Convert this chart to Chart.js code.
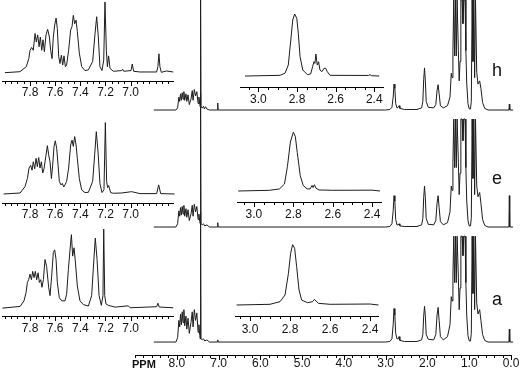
<!DOCTYPE html>
<html>
<head>
<meta charset="utf-8">
<script src="https://cdn.jsdelivr.net/npm/chart.js@4.4.1/dist/chart.umd.min.js"></script>
<style>
  html, body { margin: 0; padding: 0; background: #fff; }
  #wrap { position: relative; width: 521px; height: 376px; overflow: hidden; }
  #wrap canvas { position: absolute; }
</style>
</head>
<body>
<div id="wrap">
  <canvas id="main" width="521" height="376" style="left:0;top:0"></canvas>
  <canvas id="aroH" width="185" height="100" style="left:0;top:0"></canvas>
  <canvas id="aroE" width="185" height="117" style="left:0;top:105px"></canvas>
  <canvas id="aroA" width="185" height="116" style="left:0;top:220px"></canvas>
  <canvas id="aliH" width="170" height="108" style="left:225px;top:0"></canvas>
  <canvas id="aliE" width="170" height="108" style="left:222px;top:115px"></canvas>
  <canvas id="aliA" width="170" height="108" style="left:220px;top:230px"></canvas>
</div>
<script>
// spectra as [ppm, intensity] pairs
const mainH = [
  [8.55,0],[8.02,0],[7.98,0.02],[7.95,0.12],[7.93,0.08],[7.91,0.15],[7.89,0.09],[7.87,0.16],[7.85,0.10],[7.83,0.17],
  [7.81,0.09],[7.78,0.15],[7.76,0.08],[7.73,0.14],[7.70,0.05],[7.66,0.10],[7.63,0.18],[7.61,0.09],[7.58,0.19],[7.55,0.13],
  [7.52,0.17],[7.49,0.06],[7.47,0.12],[7.45,0.05],[7.44,0.03],[7.43,1.03],[7.42,0.03],[7.39,0.02],[7.36,0.035],[7.34,0.01],
  [7.31,0.03],[7.28,0.01],[7.22,0],[7.03,0],[7.02,0.065],[7.01,0],
  [3.0,0],[2.90,0.005],[2.85,0.025],[2.82,0.12],[2.80,0.24],[2.78,0.2],[2.76,0.06],[2.73,0.02],[2.70,0.025],[2.68,0.04],
  [2.66,0.015],[2.55,0.005],[2.25,0.005],[2.14,0.02],[2.11,0.08],[2.09,0.28],[2.07,0.39],[2.05,0.27],[2.03,0.08],[1.98,0.025],
  [1.85,0.02],[1.80,0.05],[1.77,0.18],[1.745,0.235],[1.72,0.15],[1.69,0.04],[1.62,0.02],[1.52,0.04],[1.46,0.12],[1.43,0.34],
  [1.41,0.3],[1.39,0.55],[1.37,1.02],[1.35,0.5],[1.33,1.02],[1.31,0.5],[1.29,1.02],[1.26,0.55],[1.24,0.27],[1.22,0.45],
  [1.20,1.02],[1.17,1.02],[1.15,0.8],[1.13,1.02],[1.10,1.02],[1.08,0.55],[1.06,0.25],[1.03,0.06],[1.00,0.01],[0.97,0.01],
  [0.95,0.08],[0.93,1.02],[0.91,0.45],[0.89,1.02],[0.87,0.3],[0.85,1.02],[0.82,0.35],[0.79,0.24],[0.75,0.27],[0.72,0.2],
  [0.68,0.07],[0.63,0.015],[0.55,0],[0.05,0],[0.04,0.055],[0.03,0],[-0.05,0]
];
const mainE = [
  [8.55,0],[8.02,0],[7.98,0.03],[7.95,0.15],[7.93,0.1],[7.91,0.18],[7.89,0.11],[7.87,0.19],[7.85,0.12],[7.83,0.2],
  [7.81,0.1],[7.78,0.17],[7.76,0.09],[7.73,0.16],[7.70,0.06],[7.66,0.12],[7.63,0.2],[7.61,0.1],[7.58,0.21],[7.55,0.14],
  [7.52,0.19],[7.49,0.07],[7.47,0.12],[7.45,0.05],[7.44,0.03],[7.43,1.24],[7.42,0.03],[7.39,0.02],[7.36,0.03],[7.33,0.01],
  [7.28,0.02],[7.22,0],[7.03,0],[7.02,0.04],[7.01,0],
  [3.0,0],[2.90,0.005],[2.85,0.03],[2.82,0.15],[2.80,0.29],[2.78,0.24],[2.76,0.07],[2.73,0.02],[2.70,0.02],[2.68,0.03],
  [2.66,0.01],[2.55,0.005],[2.25,0.005],[2.14,0.02],[2.11,0.08],[2.09,0.27],[2.07,0.38],[2.05,0.27],[2.03,0.08],[1.98,0.025],
  [1.85,0.02],[1.80,0.06],[1.77,0.22],[1.745,0.29],[1.72,0.18],[1.69,0.05],[1.62,0.02],[1.52,0.04],[1.46,0.14],[1.43,0.38],
  [1.41,0.34],[1.39,0.6],[1.37,1.0],[1.35,0.55],[1.33,1.0],[1.31,0.55],[1.29,1.0],[1.26,0.6],[1.24,0.3],[1.22,0.5],
  [1.20,1.0],[1.17,1.0],[1.15,0.8],[1.13,1.0],[1.10,1.0],[1.08,0.55],[1.06,0.25],[1.03,0.06],[1.00,0.01],[0.97,0.01],
  [0.95,0.08],[0.93,1.0],[0.91,0.45],[0.89,1.0],[0.87,0.3],[0.85,1.0],[0.82,0.38],[0.79,0.28],[0.75,0.32],[0.72,0.22],
  [0.68,0.07],[0.63,0.015],[0.55,0],[0.05,0],[0.04,0.29],[0.03,0],[-0.05,0]
];
const mainA = [
  [8.55,0],[8.02,0],[7.98,0.04],[7.95,0.2],[7.93,0.14],[7.91,0.26],[7.89,0.16],[7.87,0.28],[7.85,0.18],[7.83,0.3],
  [7.81,0.15],[7.78,0.24],[7.76,0.12],[7.73,0.22],[7.70,0.08],[7.66,0.18],[7.63,0.28],[7.61,0.14],[7.58,0.3],[7.55,0.2],
  [7.52,0.27],[7.49,0.09],[7.47,0.16],[7.45,0.06],[7.44,0.03],[7.43,1.2],[7.42,0.03],[7.39,0.02],[7.36,0.03],[7.33,0.01],
  [7.28,0.02],[7.22,0],[7.03,0],[7.02,0.02],[7.01,0],
  [3.0,0],[2.90,0.005],[2.85,0.03],[2.82,0.16],[2.80,0.31],[2.78,0.25],[2.76,0.08],[2.73,0.03],[2.70,0.03],[2.68,0.05],
  [2.66,0.015],[2.55,0.005],[2.25,0.005],[2.14,0.02],[2.11,0.07],[2.09,0.24],[2.07,0.33],[2.05,0.24],[2.03,0.07],[1.98,0.025],
  [1.85,0.02],[1.80,0.07],[1.77,0.25],[1.745,0.32],[1.72,0.2],[1.69,0.05],[1.62,0.02],[1.52,0.05],[1.46,0.16],[1.43,0.42],
  [1.41,0.38],[1.39,0.62],[1.37,0.98],[1.35,0.55],[1.33,0.98],[1.31,0.55],[1.29,0.98],[1.26,0.6],[1.24,0.3],[1.22,0.5],
  [1.20,0.98],[1.17,0.98],[1.15,0.8],[1.13,0.98],[1.10,0.98],[1.08,0.55],[1.06,0.25],[1.03,0.06],[1.00,0.01],[0.97,0.01],
  [0.95,0.08],[0.93,0.98],[0.91,0.45],[0.89,0.98],[0.87,0.3],[0.85,0.98],[0.82,0.36],[0.79,0.26],[0.75,0.30],[0.72,0.2],
  [0.68,0.07],[0.63,0.015],[0.55,0],[0.05,0],[0.04,0.12],[0.03,0],[-0.05,0]
];

const aroH = [
  [8.00,0],[7.88,0.014],[7.83,0.086],[7.81,0.2],[7.80,0.32],[7.787,0.36],[7.774,0.32],[7.76,0.56],[7.75,0.44],[7.739,0.54],
  [7.728,0.37],[7.718,0.51],[7.707,0.32],[7.697,0.47],[7.686,0.30],[7.673,0.54],[7.66,0.62],[7.646,0.51],[7.636,0.32],[7.625,0.2],
  [7.615,0.51],[7.604,0.68],[7.593,0.78],[7.583,0.63],[7.572,0.23],[7.562,0.13],[7.551,0.25],[7.54,0.11],[7.53,0.24],[7.519,0.086],
  [7.509,0.11],[7.493,0.32],[7.477,0.61],[7.466,0.66],[7.456,0.82],[7.445,0.70],[7.434,0.75],[7.424,0.59],[7.408,0.28],[7.389,0.086],
  [7.363,0.03],[7.336,0.04],[7.302,0.16],[7.283,0.56],[7.27,0.80],[7.257,0.51],[7.244,0.086],[7.228,0.03],[7.214,0.18],[7.204,1.01],
  [7.193,0.32],[7.185,0.086],[7.175,0.24],[7.164,0.062],[7.138,0.02],[7.071,0.03],[7.063,0.048],[7.055,0.02],[6.997,0.03],[6.987,0.124],
  [6.976,0.02],[6.926,0.01],[6.793,0.01],[6.783,0.086],[6.775,0.27],[6.767,0.086],[6.756,0.005],[6.714,0.024],[6.661,0.01]
];
const aroE = [
  [8.01,0],[7.879,0.014],[7.84,0.105],[7.821,0.22],[7.808,0.37],[7.795,0.41],[7.784,0.34],[7.774,0.46],[7.763,0.36],[7.752,0.51],
  [7.742,0.39],[7.731,0.52],[7.721,0.37],[7.71,0.46],[7.699,0.30],[7.689,0.36],[7.675,0.53],[7.662,0.69],[7.652,0.56],[7.641,0.46],
  [7.63,0.22],[7.62,0.41],[7.609,0.68],[7.599,0.76],[7.588,0.65],[7.577,0.41],[7.567,0.18],[7.554,0.13],[7.543,0.15],[7.532,0.10],
  [7.522,0.13],[7.509,0.18],[7.493,0.37],[7.477,0.70],[7.466,0.77],[7.456,0.68],[7.445,0.82],[7.434,0.70],[7.424,0.51],[7.408,0.22],
  [7.389,0.057],[7.363,0.02],[7.336,0.024],[7.302,0.18],[7.286,0.56],[7.273,0.89],[7.259,0.60],[7.244,0.15],[7.228,0.02],[7.212,0.06],
  [7.201,1.02],[7.191,0.18],[7.183,0.09],[7.175,0.12],[7.159,0.02],[7.138,0.01],[7.071,0.014],[6.992,0.033],[6.926,0.005],[6.793,0.005],
  [6.777,0.13],[6.761,0.005],[6.65,0]
];
const aroA = [
  [8.02,0],[7.879,0.024],[7.848,0.105],[7.832,0.22],[7.821,0.37],[7.811,0.41],[7.80,0.49],[7.789,0.41],[7.779,0.53],[7.768,0.44],
  [7.758,0.53],[7.747,0.41],[7.736,0.51],[7.726,0.37],[7.715,0.41],[7.705,0.30],[7.694,0.41],[7.681,0.70],[7.668,0.60],[7.652,0.30],
  [7.641,0.18],[7.628,0.46],[7.615,0.80],[7.604,0.84],[7.593,0.70],[7.583,0.37],[7.567,0.15],[7.548,0.105],[7.522,0.105],[7.509,0.20],
  [7.495,0.56],[7.482,0.84],[7.471,1.06],[7.461,0.75],[7.45,0.87],[7.44,0.68],[7.424,0.32],[7.403,0.105],[7.376,0.05],[7.336,0.03],
  [7.31,0.18],[7.294,0.65],[7.281,1.01],[7.267,0.70],[7.251,0.18],[7.233,0.04],[7.22,0.18],[7.214,1.14],[7.206,0.18],[7.196,0.06],
  [7.177,0.04],[7.124,0.014],[7.018,0.033],[7.005,0.005],[6.793,0.02],[6.783,0.07],[6.772,0.015],[6.661,0.005]
];

const aliH = [
  [3.069,0],[2.888,0.01],[2.862,0.04],[2.845,0.157],[2.832,0.514],[2.822,0.8],[2.812,0.886],[2.801,0.824],[2.793,0.61],[2.784,0.276],
  [2.77,0.086],[2.746,0.02],[2.729,0.03],[2.719,0.133],[2.712,0.205],[2.707,0.18],[2.702,0.314],[2.695,0.157],[2.688,0.205],[2.681,0.086],
  [2.671,0.062],[2.66,0.11],[2.651,0.11],[2.643,0.062],[2.629,0.01],[2.43,0.008],[2.422,0.02],[2.414,0.005],[2.374,0]
];
const aliE = [
  [3.08,0],[2.92,0.01],[2.87,0.03],[2.845,0.1],[2.83,0.35],[2.815,0.7],[2.80,0.84],[2.79,0.78],[2.78,0.55],[2.765,0.22],
  [2.75,0.08],[2.73,0.03],[2.715,0.03],[2.705,0.08],[2.70,0.05],[2.693,0.09],[2.685,0.04],[2.67,0.015],[2.6,0.01],[2.40,0.012],[2.36,0]
];
const aliA = [
  [3.067,0],[2.90,0.01],[2.85,0.048],[2.825,0.143],[2.808,0.452],[2.797,0.738],[2.787,0.862],[2.777,0.81],[2.767,0.548],[2.755,0.214],
  [2.742,0.071],[2.713,0.033],[2.687,0.048],[2.678,0.081],[2.67,0.057],[2.658,0.024],[2.60,0.01],[2.40,0.014],[2.358,0]
];

const mainTicks = [8, 7, 6, 5, 4, 3, 2, 1, 0];
const aroTicks = [7.8, 7.6, 7.4, 7.2, 7.0];
const aliTicks = [3.0, 2.8, 2.6, 2.4];
const panelNames = ["h", "e", "a"];

const FONT = "'Liberation Sans', Arial, sans-serif";
const INK = "#1c1c1c";
Chart.defaults.font.family = FONT;

function isMajor(list, v) {
  return list.some(m => Math.abs(m - v) < 1e-6);
}

// draws long ticks on labelled values, short ones in between
const tickMarks = {
  id: "tickMarks",
  afterDraw(chart, args, opts) {
    const sc = chart.scales.x;
    const ctx = chart.ctx;
    const y0 = Math.round(sc.top);
    ctx.save();
    ctx.strokeStyle = "#000";
    ctx.lineWidth = 1;
    sc.ticks.forEach(t => {
      const px = Math.round(sc.getPixelForValue(t.value)) + 0.5;
      const len = isMajor(opts.majors, t.value) ? 5 : 3;
      ctx.beginPath();
      ctx.moveTo(px, y0);
      ctx.lineTo(px, y0 + len);
      ctx.stroke();
    });
    if (opts.title) {
      ctx.fillStyle = "#111";
      ctx.font = "bold 11px " + FONT;
      ctx.textBaseline = "top";
      ctx.fillText(opts.title, sc.left - 3, sc.top + 4);
    }
    ctx.restore();
  }
};

const panelTags = {
  id: "panelTags",
  afterDatasetsDraw(chart, args, opts) {
    const ctx = chart.ctx;
    ctx.save();
    ctx.font = "18px " + FONT;
    ctx.fillStyle = "#111";
    ctx.textAlign = "center";
    panelNames.forEach((name, i) => {
      const sc = chart.scales[opts.axes[i]];
      ctx.fillText(name, chart.chartArea.right - 14, sc.getPixelForValue(opts.lift[i]));
    });
    ctx.restore();
  }
};

function toXY(pairs) {
  return pairs.map(p => ({ x: p[0], y: p[1] }));
}

function xAxis(min, max, step, labels, tickLen) {
  return {
    type: "linear",
    reverse: true,
    min, max,
    border: { display: true, color: "#000", width: 1 },
    grid: { display: true, drawOnChartArea: false, tickLength: tickLen, tickColor: "rgba(0,0,0,0)" },
    ticks: {
      stepSize: step,
      includeBounds: false,
      autoSkip: false,
      maxRotation: 0,
      minRotation: 0,
      padding: 0,
      color: "#111",
      font: { size: 12 },
      callback: v => {
        const m = labels.find(l => Math.abs(l - v) < 1e-6);
        return m === undefined ? "" : m.toFixed(1);
      }
    }
  };
}

function hiddenY(min, max) {
  return { type: "linear", display: false, min, max };
}

function lineSet(pairs, axisId) {
  return {
    data: toXY(pairs),
    yAxisID: axisId,
    borderColor: INK,
    borderWidth: 1,
    pointRadius: 0,
    tension: 0,
    fill: false,
    clip: false
  };
}

const baseOptions = {
  responsive: false,
  animation: false,
  devicePixelRatio: 1,
  events: []
};

new Chart(document.getElementById("main"), {
  type: "line",
  data: {
    datasets: [lineSet(mainH, "yh"), lineSet(mainE, "ye"), lineSet(mainA, "ya")]
  },
  options: {
    ...baseOptions,
    layout: { padding: { left: 135, right: 10, top: 0, bottom: 5.6 } },
    scales: {
      x: xAxis(0, 9, 0.2, mainTicks, 1),
      yh: hiddenY(-2.269, 1.019),
      ye: hiddenY(-1.185, 2.102),
      ya: hiddenY(-0.12, 3.167)
    },
    plugins: {
      legend: { display: false },
      tooltip: { enabled: false },
      tickMarks: { majors: mainTicks, title: "PPM" },
      panelTags: { axes: ["yh", "ye", "ya"], lift: [0.315, 0.40, 0.34] }
    }
  },
  plugins: [tickMarks, panelTags]
});

function inset(id, pairs, range, step, labels, yRange, pad, tickLen) {
  new Chart(document.getElementById(id), {
    type: "line",
    data: { datasets: [lineSet(pairs, "y")] },
    options: {
      ...baseOptions,
      layout: { padding: pad },
      scales: {
        x: xAxis(range[0], range[1], step, labels, tickLen),
        y: hiddenY(yRange[0], yRange[1])
      },
      plugins: {
        legend: { display: false },
        tooltip: { enabled: false },
        tickMarks: { majors: labels }
      }
    },
    plugins: [tickMarks]
  });
}

inset("aroH", aroH, [6.663, 8.023], 0.05, aroTicks, [-0.119, 1.039], { left: 2, right: 12, top: 0, bottom: 0.6 }, 4);
inset("aroE", aroE, [6.663, 8.023], 0.05, aroTicks, [-0.129, 1.271], { left: 2, right: 12, top: 0, bottom: 0.6 }, 4);
inset("aroA", aroA, [6.663, 8.023], 0.05, aroTicks, [-0.114, 1.271], { left: 2, right: 12, top: 0, bottom: 0.6 }, 5);
inset("aliH", aliH, [2.353, 3.095], 0.05, aliTicks, [-0.161, 1.086], { left: 15, right: 11.7, top: 0, bottom: 1.3 }, 5);
inset("aliE", aliE, [2.355, 3.086], 0.05, aliTicks, [-0.157, 1.086], { left: 15, right: 11, top: 0, bottom: 1.6 }, 5);
inset("aliA", aliA, [2.359, 3.075], 0.05, aliTicks, [-0.157, 1.071], { left: 15, right: 11.7, top: 0, bottom: 1.6 }, 6);
</script>
</body>
</html>
